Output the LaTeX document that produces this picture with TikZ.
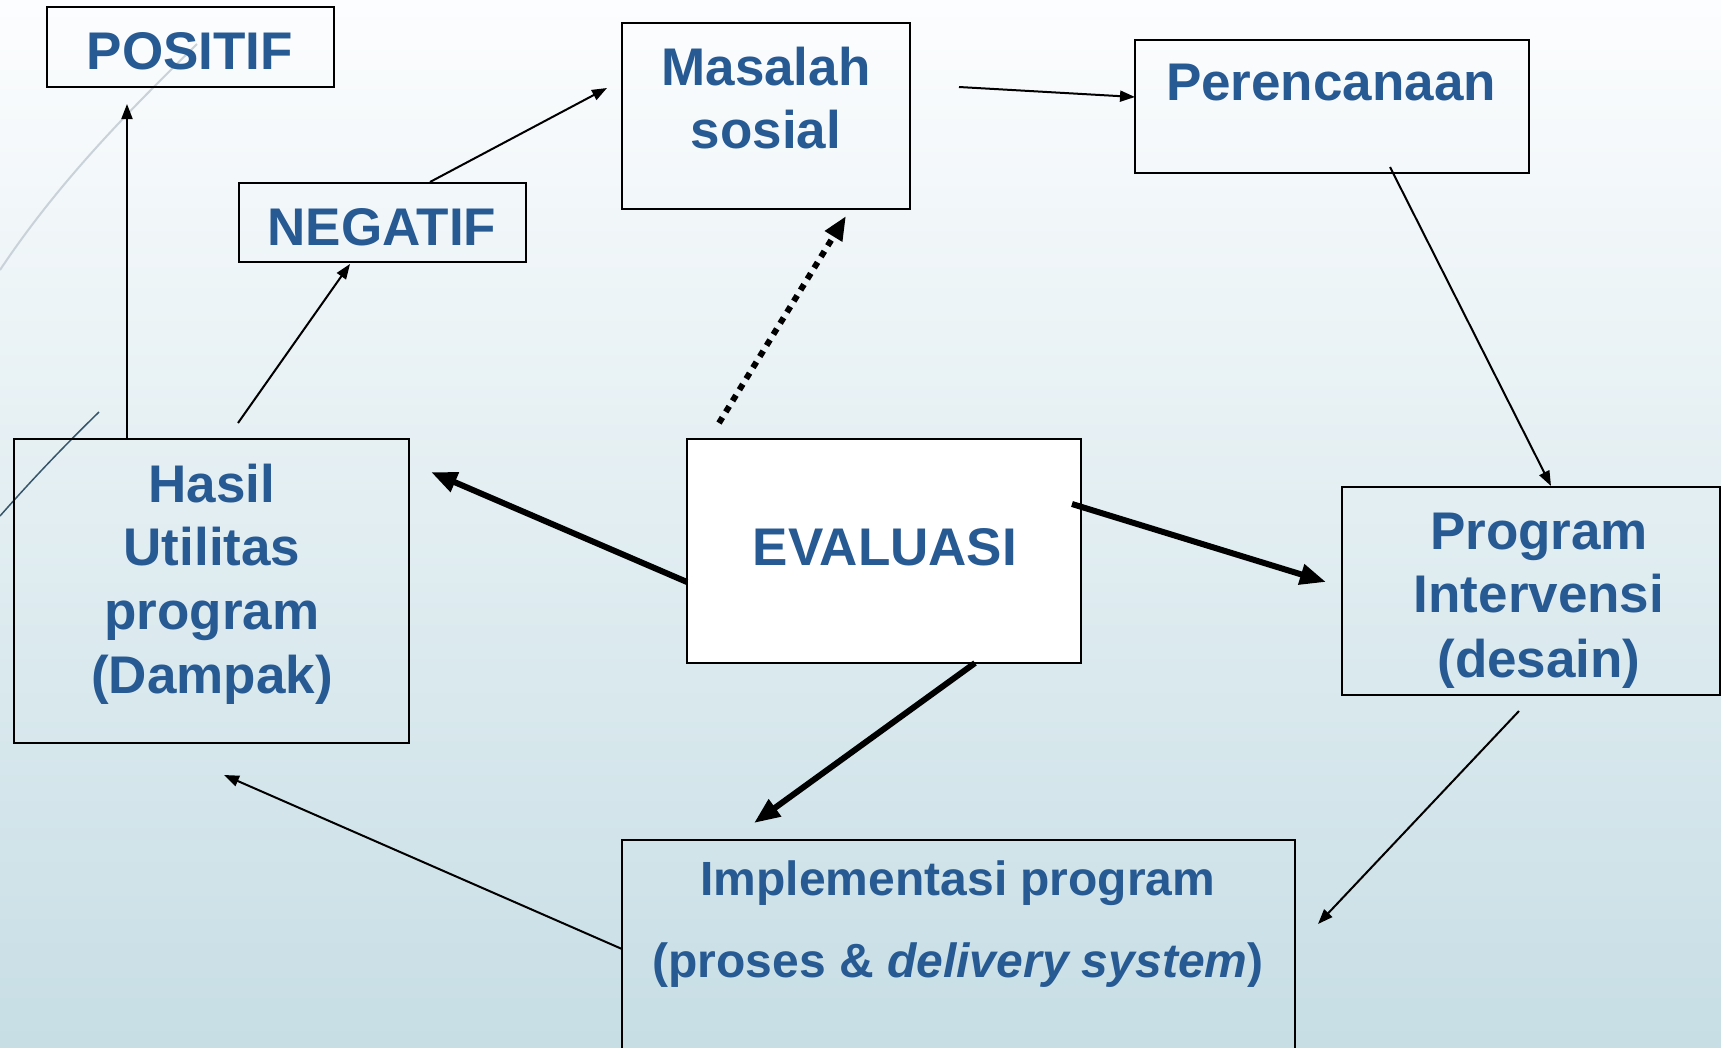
\documentclass[tikz,border=0pt]{standalone}
\usepackage{fontspec}
\setmainfont{Liberation Sans}
\usetikzlibrary{arrows.meta}
\definecolor{txtblue}{RGB}{39,89,146}
\definecolor{bgtop}{RGB}{252,253,254}
\definecolor{bgmid}{RGB}{228,238,242}
\definecolor{bgbot}{RGB}{199,222,229}
\definecolor{decogray}{RGB}{200,210,216}
\definecolor{decodark}{RGB}{55,85,105}
\begin{document}
\begin{tikzpicture}[x=1pt,y=-1pt,
  box/.style={draw=black,line width=2pt,inner sep=0pt,outer sep=0pt},
  lbl/.style={text=txtblue,font=\bfseries\fontsize{53}{64}\selectfont,anchor=base,inner sep=0pt},
  lblsmall/.style={text=txtblue,font=\bfseries\fontsize{48}{58}\selectfont,anchor=base,inner sep=0pt},
  conn/.style={line width=2pt,-{Triangle[length=15pt,width=11pt]}},
  bigconn/.style={line width=6pt,-{Triangle[length=26pt,width=20pt]}},
  dotconn/.style={line width=6pt,dash pattern=on 6.5pt off 6.5pt,-{Triangle[length=24pt,width=19pt]}},
]
\useasboundingbox (0,0) rectangle (1721,1047);
\clip (0,0) rectangle (1721,1047);
\shade[top color=bgtop, middle color=bgmid, bottom color=bgbot] (0,0) rectangle (1721,1047);

% decorative template lines
\draw[decogray,line width=2pt] (0,270) .. controls (60,180) and (130,110) .. (197,44);
\draw[decodark,line width=1.5pt] (99,412) .. controls (60,450) and (30,482) .. (0,516);

% boxes
\node[box,minimum width=287pt,minimum height=80pt] (positif) at (190.5,47) {};
\node[box,minimum width=287pt,minimum height=79pt] (negatif) at (382.5,222.5) {};
\node[box,minimum width=288pt,minimum height=186pt] (masalah) at (766,116) {};
\node[box,minimum width=394pt,minimum height=133pt] (perenc) at (1332,106) {};
\node[box,minimum width=395pt,minimum height=304pt] (hasil) at (211.5,591) {};
\node[box,fill=white,minimum width=394pt,minimum height=224pt] (eval) at (884,551) {};
\node[box,minimum width=378pt,minimum height=208pt] (progint) at (1531,591) {};
\node[box,minimum width=673pt,minimum height=240pt] (impl) at (958.5,960) {};

% texts
\node[lbl] (tpositif) at (190,69) {POSITIF};
\node[lbl] (tnegatif) at (382,245) {NEGATIF};
\node[lbl] (tmas1) at (766,85) {Masalah};
\node[lbl] (tmas2) at (766,148) {sosial};
\node[lbl] (tperenc) at (1331,100) {Perencanaan};
\node[lbl] (thas1) at (212,502) {Hasil};
\node[lbl] (thas2) at (212,565) {Utilitas};
\node[lbl] (thas3) at (212,629) {program};
\node[lbl] (thas4) at (212,693) {(Dampak)};
\node[lbl] (teval) at (885,565) {EVALUASI};
\node[lbl] (tprog1) at (1539,549) {Program};
\node[lbl] (tprog2) at (1539,612) {Intervensi};
\node[lbl] (tprog3) at (1539,677) {(desain)};
\node[lblsmall] (timpl1) at (958,895) {Implementasi program};
\node[lblsmall] (timpl2) at (958,977) {(proses \& \textit{delivery system})};

% connector end points
\coordinate (c1s) at (127,439);  \coordinate (c1e) at (127,104);
\coordinate (c2s) at (238,423);  \coordinate (c2e) at (350,264);
\coordinate (c3s) at (430,182);  \coordinate (c3e) at (607,88);
\coordinate (c4s) at (959,87);   \coordinate (c4e) at (1135,97);
\coordinate (c5s) at (1390,167); \coordinate (c5e) at (1551,486);
\coordinate (c6s) at (1519,711); \coordinate (c6e) at (1318,924);
\coordinate (c7s) at (622,949);  \coordinate (c7e) at (224,775);
\coordinate (c8s) at (687,582);  \coordinate (c8e) at (431,472);
\coordinate (c9s) at (1072,504); \coordinate (c9e) at (1326,582);
\coordinate (c10s) at (975,663); \coordinate (c10e) at (754,823);
\coordinate (c11s) at (719,423); \coordinate (c11e) at (846,216);

% connectors
\draw[conn] (c1s) -- (c1e);
\draw[conn] (c2s) -- (c2e);
\draw[conn] (c3s) -- (c3e);
\draw[conn] (c4s) -- (c4e);
\draw[conn] (c5s) -- (c5e);
\draw[conn] (c6s) -- (c6e);
\draw[conn] (c7s) -- (c7e);
\draw[bigconn] (c8s) -- (c8e);
\draw[bigconn] (c9s) -- (c9e);
\draw[bigconn] (c10s) -- (c10e);
\draw[dotconn] (c11s) -- (c11e);
\end{tikzpicture}
\end{document}
